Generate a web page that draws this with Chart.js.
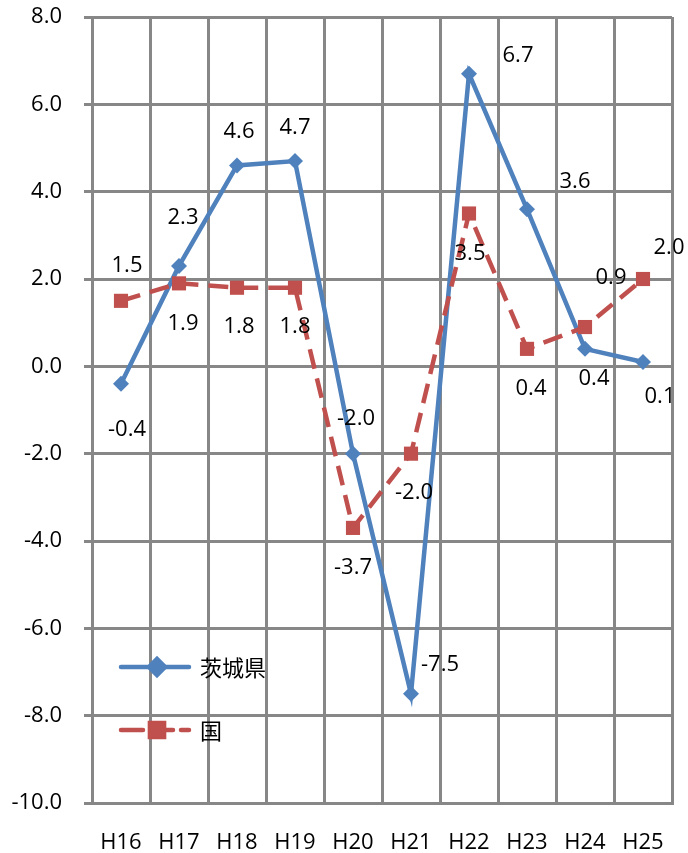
<!DOCTYPE html>
<html>
<head>
<meta charset="utf-8">
<script src="https://cdn.jsdelivr.net/npm/chart.js@4/dist/chart.umd.min.js"></script>
<style>
  html, body { margin: 0; padding: 0; background: #fff; }
  #wrap { width: 688px; height: 853px; }
</style>
</head>
<body>
<div id="wrap"><canvas id="chart"></canvas></div>
<script>
// ===== DATOS =====
const categories = ['H16', 'H17', 'H18', 'H19', 'H20', 'H21', 'H22', 'H23', 'H24', 'H25'];
const ibarakiValues = [-0.4, 2.3, 4.6, 4.7, -2.0, -7.5, 6.7, 3.6, 0.4, 0.1];
const kuniValues = [1.5, 1.9, 1.8, 1.8, -3.7, -2.0, 3.5, 0.4, 0.9, 2.0];
const yTicks = [-10, -8, -6, -4, -2, 0, 2, 4, 6, 8];

// posicion de las etiquetas respecto al punto (px)
const ibarakiLabelOffsets = [[6, 46], [4, -48], [2, -34], [0, -33], [3, -35], [29, -29], [49, -18], [48, -27], [9, 30], [17, 35]];
const kuniLabelOffsets = [[6, -35], [4, 40], [2, 39], [0, 39], [0, 40], [3, 39], [1, 40], [4, 40], [26, -49], [26, -31]];

const BLUE = '#4F81BD';
const RED = '#C0504D';
const GRID = '#878787';
const FONT = "'Open Sans', 'Noto Sans', sans-serif";

// ===== ETIQUETAS DE DATOS =====
const dataLabels = {
    id: 'dataLabels',
    afterDatasetsDraw(chart) {
        const ctx = chart.ctx;
        ctx.save();
        ctx.font = '22px ' + FONT;
        ctx.fillStyle = '#000';
        ctx.textAlign = 'center';
        ctx.textBaseline = 'middle';
        const sets = [[0, ibarakiValues, ibarakiLabelOffsets], [1, kuniValues, kuniLabelOffsets]];
        sets.forEach(([idx, vals, offs]) => {
            const meta = chart.getDatasetMeta(idx);
            meta.data.forEach((pt, i) => {
                ctx.fillText(vals[i].toFixed(1), pt.x + offs[i][0], pt.y + offs[i][1]);
            });
        });
        ctx.restore();
    }
};

// ===== LEYENDA DENTRO DEL GRAFICO =====
const innerLegend = {
    id: 'innerLegend',
    afterDraw(chart) {
        const ctx = chart.ctx;
        const x0 = chart.chartArea.left + 29;
        const rows = [
            { y: 667, color: BLUE, dash: [], style: 'rectRot', r: 8, text: '茨城県' },
            { y: 730, color: RED, dash: [22, 8], style: 'rect', r: 10, text: '国' }
        ];
        ctx.save();
        rows.forEach(row => {
            ctx.strokeStyle = row.color;
            ctx.lineWidth = 4.5;
            ctx.lineCap = 'round';
            ctx.setLineDash(row.dash);
            ctx.beginPath();
            ctx.moveTo(x0, row.y);
            ctx.lineTo(x0 + 68, row.y);
            ctx.stroke();
            ctx.setLineDash([]);
            Chart.helpers.drawPoint(ctx, { pointStyle: row.style, radius: row.r, borderWidth: 1 }, x0 + 36, row.y);
            ctx.fillStyle = row.color;
            ctx.fill();
            ctx.fillStyle = '#000';
            ctx.font = "22px 'Noto Sans CJK JP', sans-serif";
            ctx.textAlign = 'left';
            ctx.textBaseline = 'middle';
            ctx.fillText(row.text, x0 + 79, row.y + 1);
        });
        ctx.restore();
    }
};

const ctx1 = document.getElementById('chart').getContext('2d');
const chart = new Chart(ctx1, {
    type: 'line',
    data: {
        labels: categories,
        datasets: [
            { label: '茨城県', data: ibarakiValues, borderColor: BLUE, backgroundColor: BLUE, borderWidth: 4.5,
              pointStyle: 'rectRot', pointRadius: 8, pointBorderWidth: 0, tension: 0, order: 1 },
            { label: '国', data: kuniValues, borderColor: RED, backgroundColor: RED, borderWidth: 4.5, borderDash: [20, 10],
              pointStyle: 'rect', pointRadius: 10, pointBorderWidth: 0, tension: 0, order: 0 }
        ]
    },
    options: {
        responsive: true,
        maintainAspectRatio: false,
        animation: false,
        layout: { autoPadding: false, padding: { top: 17, right: 16, bottom: 0, left: 0 } },
        plugins: { legend: { display: false }, tooltip: { enabled: false } },
        scales: {
            x: {
                offset: true,
                grid: { offset: true, color: GRID, lineWidth: 3, drawTicks: false },
                border: { color: GRID, width: 3 },
                ticks: { color: '#000', font: { family: FONT, size: 22 }, padding: 27, maxRotation: 0 },
                afterFit(scale) { scale.height = 50; scale.paddingLeft = 0; scale.paddingRight = 0; }
            },
            y: {
                min: -10,
                max: 8,
                afterBuildTicks(scale) { scale.ticks = yTicks.map(v => ({ value: v })); },
                grid: { color: GRID, lineWidth: 3, tickLength: 8 },
                border: { color: GRID, width: 3 },
                ticks: { color: '#000', font: { family: FONT, size: 22 }, padding: 22, callback: v => v.toFixed(1) },
                afterFit(scale) { scale.width = 92; scale.paddingTop = 0; scale.paddingBottom = 0; }
            }
        }
    },
    plugins: [dataLabels, innerLegend]
});
</script>
</body>
</html>
